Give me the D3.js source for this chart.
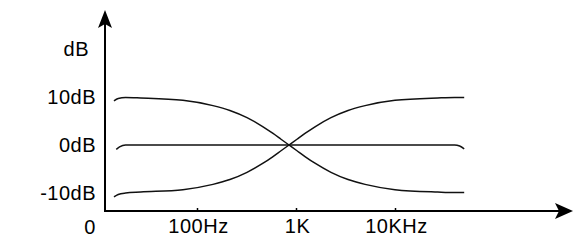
<!DOCTYPE html>
<html>
<head>
<meta charset="utf-8">
<script src="https://cdn.jsdelivr.net/npm/d3@7"></script>
<style>
  body { margin: 0; background: #fff; }
  svg text { font-family: "Liberation Sans", Arial, sans-serif; font-size: 20px; letter-spacing: 0.5px; fill: #000; }
</style>
</head>
<body>
<svg id="chart" width="579" height="240"></svg>
<script>
const SVG = d3.select('#chart');
const ORIGIN_X = 105;
const ORIGIN_Y = 211;
const Y_TOP = 10;
const X_END = 573;

// DATA

// frequencies (Hz) for the two shelving curves
const freqs = [14.5, 16, 19, 27, 72, 145, 215, 320, 465, 586, 706, 850, 1023, 1233, 1555, 2257, 3355, 4985, 10000, 27000, 40000, 50000];
// bass boost / treble cut curve (dB)
const bassCurve = [9.2, 9.7, 9.9, 9.8, 9.3, 8.2, 7.2, 5.7, 3.8, 2.4, 1.2, 0, -1.2, -2.4, -3.8, -5.7, -7.2, -8.2, -9.3, -9.8, -9.9, -9.9];
// bass cut / treble boost curve (dB)
const trebleCurve = [-10.8, -10.3, -10.0, -9.8, -9.3, -8.2, -7.2, -5.7, -3.8, -2.4, -1.2, 0, 1.2, 2.4, 3.8, 5.7, 7.2, 8.2, 9.3, 9.8, 9.9, 9.9];
// flat curve
const flatFreqs = [15.3, 16.5, 19, 27, 1000, 40000, 45000, 50000];
const flatCurve = [-0.9, -0.4, 0, 0, 0, 0, -0.2, -0.8];

const xTicks = [100, 1000, 10000];
const xTickLabels = ['100Hz', '1K', '10KHz'];
const yTicks = [10, 0, -10];
const yTickLabels = ['10dB', '0dB', '-10dB'];

// SCALES

const x = d3.scaleLog().domain([100, 10000]).range([197, 395]);
const y = d3.scaleLinear().domain([-10, 10]).range([193, 97]);

// CURVES

const line = d3.line()
  .x(d => x(d[0]))
  .y(d => y(d[1]))
  .curve(d3.curveMonotoneX);

const series = [
  freqs.map((f, i) => [f, bassCurve[i]]),
  freqs.map((f, i) => [f, trebleCurve[i]]),
  flatFreqs.map((f, i) => [f, flatCurve[i]])
];

SVG.selectAll('path.curve')
  .data(series)
  .join('path')
  .attr('class', 'curve')
  .attr('d', line)
  .attr('fill', 'none')
  .attr('stroke', '#111')
  .attr('stroke-width', 1.5);

// AXES

const xAxis = d3.axisBottom(x)
  .tickValues(xTicks)
  .tickSize(-3)
  .tickFormat((d, i) => xTickLabels[i]);

const gx = SVG.append('g')
  .attr('transform', `translate(0,${ORIGIN_Y})`)
  .call(xAxis);
gx.select('.domain').remove();
gx.selectAll('.tick line').attr('stroke', '#000').attr('stroke-width', 1.5);
gx.selectAll('.tick text')
  .attr('y', 22)
  .attr('dy', 0)
  .attr('dx', 1)
  .attr('font-size', null)
  .attr('font-family', null);

SVG.append('line')
  .attr('x1', ORIGIN_X - 1).attr('y1', ORIGIN_Y)
  .attr('x2', X_END - 12).attr('y2', ORIGIN_Y)
  .attr('stroke', '#000').attr('stroke-width', 2);

SVG.append('line')
  .attr('x1', ORIGIN_X).attr('y1', ORIGIN_Y + 1)
  .attr('x2', ORIGIN_X).attr('y2', Y_TOP + 12)
  .attr('stroke', '#000').attr('stroke-width', 2);

// arrow heads
SVG.append('path')
  .attr('d', `M${ORIGIN_X},${Y_TOP} L${ORIGIN_X - 7},${Y_TOP + 18} L${ORIGIN_X},${Y_TOP + 14} L${ORIGIN_X + 7},${Y_TOP + 18} Z`)
  .attr('fill', '#000');

SVG.append('path')
  .attr('d', `M${X_END},${ORIGIN_Y} L${X_END - 18},${ORIGIN_Y - 8} L${X_END - 14},${ORIGIN_Y} L${X_END - 18},${ORIGIN_Y + 8} Z`)
  .attr('fill', '#000');

// y labels
SVG.selectAll('text.ylabel')
  .data(yTicks)
  .join('text')
  .attr('class', 'ylabel')
  .attr('x', 96)
  .attr('y', d => y(d))
  .attr('dy', '0.35em')
  .attr('text-anchor', 'end')
  .text((d, i) => yTickLabels[i]);

SVG.append('text')
  .attr('x', 89)
  .attr('y', y(20))
  .attr('dy', '0.35em')
  .attr('text-anchor', 'end')
  .text('dB');

SVG.append('text')
  .attr('x', 90)
  .attr('y', ORIGIN_Y + 23)
  .attr('text-anchor', 'middle')
  .text('0');
</script>
</body>
</html>
